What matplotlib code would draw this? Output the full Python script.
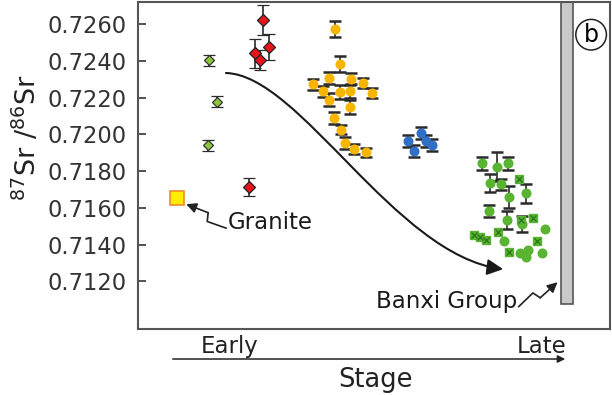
import numpy as np
import matplotlib
matplotlib.use("Agg")
import matplotlib.pyplot as plt
from matplotlib.patches import FancyArrowPatch, Rectangle
from matplotlib.path import Path

# 87Sr/86Sr of the different mineral generations, ordered by stage
granite_x = [8.18]
granite_y = [0.71652]

lime_x = [15.07, 16.77, 14.86]
lime_y = [0.72405, 0.72178, 0.71942]
lime_err = [0.0003, 0.0003, 0.0003]

red_x = [26.49, 27.74, 24.84, 25.90, 23.47]
red_y = [0.72623, 0.72478, 0.72442, 0.72404, 0.71715]
red_err = [0.0008, 0.0007, 0.0008, 0.00055, 0.0005]

yel_x = [41.69, 42.71, 40.32, 37.10, 45.14, 47.63, 39.05, 42.75, 44.78,
         49.58, 40.32, 44.78, 41.40, 42.96, 43.76, 45.60, 48.20]
yel_y = [0.72573, 0.72384, 0.72306, 0.72275, 0.72305, 0.72280, 0.72235,
         0.72231, 0.72235, 0.72226, 0.72190, 0.72149, 0.72088, 0.72027,
         0.71953, 0.71920, 0.71902]
yel_err = [0.00043, 0.00045, 0.00033, 0.0003, 0.00028, 0.00028, 0.0003,
           0.0004, 0.00035, 0.00025, 0.00036, 0.00038, 0.00032, 0.00027,
           0.00032, 0.00029, 0.00025]

blue_x = [59.83, 57.12, 60.95, 62.26, 58.46]
blue_y = [0.72010, 0.71966, 0.71964, 0.71942, 0.71912]
blue_err = [0.00033, 0.00033, 0.00033, 0.00033, 0.00033]

grn_x = [72.66, 75.86, 78.33, 74.42, 76.74, 78.44, 81.99, 74.27, 77.97, 81.25]
grn_y = [0.71842, 0.71824, 0.71842, 0.71737, 0.71728, 0.71660, 0.71679,
         0.71584, 0.71535, 0.71512]
grn_err = [0.00033, 0.0008, 0.00033, 0.0005, 0.00028, 0.0006, 0.0005,
           0.00033, 0.0005, 0.00044]

grn2_x = [86.15, 77.44, 80.76, 81.82, 82.52, 82.14, 85.37]
grn2_y = [0.71484, 0.71421, 0.71352, 0.71346, 0.71370, 0.71335, 0.71354]

grnx_x = [80.66, 81.08, 83.57, 71.04, 72.30, 73.68, 76.11, 84.46, 78.54]
grnx_y = [0.71755, 0.71536, 0.71543, 0.71451, 0.71439, 0.71427, 0.71468,
          0.71419, 0.71361]

banxi_x = 90.75
banxi_w = 2.65
banxi_low = 0.71076

yticks = [0.7120, 0.7140, 0.7160, 0.7180, 0.7200, 0.7220, 0.7240, 0.7260]

plt.rcParams['font.family'] = 'DejaVu Sans'

fig = plt.figure(figsize=(6.12, 3.95), dpi=100)
ax = fig.add_axes([138 / 612, 66 / 395, 472 / 612, 327 / 395])
ax.set_xlim(0, 99.8)
ax.set_ylim(0.70940, 0.72722)

ebar = dict(ls='none', ecolor='#2a2a2a', elinewidth=1.2, capsize=4.5,
            capthick=1.8, zorder=3)

ax.errorbar(lime_x, lime_y, yerr=lime_err, marker='D', ms=5.5,
            mfc='#8cc63f', mec='#333333', mew=0.9, **ebar)
ax.errorbar(red_x, red_y, yerr=red_err, marker='D', ms=6.2,
            mfc='#e8141b', mec='#222222', mew=0.9, **ebar)
ax.errorbar(yel_x, yel_y, yerr=yel_err, marker='o', ms=6.2,
            mfc='#f7b500', mec='#f7b500', **ebar)
ax.errorbar(blue_x, blue_y, yerr=blue_err, marker='o', ms=6.2,
            mfc='#2f6fc6', mec='#2f6fc6', **ebar)
ax.errorbar(grn_x, grn_y, yerr=grn_err, marker='o', ms=6.2,
            mfc='#58b431', mec='#58b431', **ebar)
ax.plot(grn2_x, grn2_y, 'o', ms=6.2, color='#58b431', zorder=4)
ax.plot(grnx_x, grnx_y, 's', ms=5.5, color='#58b431', zorder=4)
ax.plot(grnx_x, grnx_y, 'x', ms=5, mew=1.0, color='#2f7a1a', zorder=5)

ax.plot(granite_x, granite_y, 's', ms=10, mfc='#ffec00', mec='#f08a30',
        mew=1.2, zorder=4)

# Banxi Group bar
ax.add_patch(Rectangle((banxi_x - banxi_w / 2, banxi_low), banxi_w,
                       0.72722 - banxi_low, fc='#c9c9c9', ec='#555555',
                       lw=1.2, zorder=2))

# trend arrow
verts = [(18.6, 0.72335), (34.25, 0.72324), (54.3, 0.71343), (77.2, 0.71266)]
trend = Path(verts, [Path.MOVETO, Path.CURVE4, Path.CURVE4, Path.CURVE4])
ax.add_patch(FancyArrowPatch(path=trend, arrowstyle='-|>', mutation_scale=24,
                             color='#1a1a1a', lw=1.5, zorder=2))


def bolt(start, end):
    # lightning-style pointer, drawn in display pixels
    s = ax.transData.transform(start)
    e = ax.transData.transform(end)
    d = e - s
    n = np.array([-d[1], d[0]]) / np.hypot(*d)
    m1 = s + 0.42 * d + 4 * n
    m2 = s + 0.5 * d - 4 * n
    pts = np.array([s, m1, m2])
    inv = ax.transData.inverted()
    p = inv.transform(pts)
    ax.plot(p[:, 0], p[:, 1], color='#222222', lw=1.2, clip_on=False)
    ax.annotate('', xy=end, xytext=tuple(inv.transform(m2)),
                arrowprops=dict(arrowstyle='-|>', color='#222222', lw=1.2,
                                mutation_scale=15, shrinkA=0, shrinkB=0))


ax.text(19.0, 0.71523, 'Granite', fontsize=16.5, ha='left', va='center',
        color='#1a1a1a')
bolt((18.6, 0.71490), (10.2, 0.71620))
ax.text(80.1, 0.71092, 'Banxi Group', fontsize=16.5, ha='right',
        va='center', color='#1a1a1a')
bolt((80.5, 0.71062), (88.7, 0.71195))

ax.text(0.96, 0.90, 'b', transform=ax.transAxes, fontsize=17, ha='center',
        va='center', bbox=dict(boxstyle='circle,pad=0.14', fc='white',
                               ec='#222222', lw=1.1))

ax.set_yticks(yticks)
ax.set_yticklabels(['%.4f' % t for t in yticks])
ax.set_xticks([])
ax.tick_params(axis='y', direction='in', length=6, width=1.3,
               color='#444444', labelsize=16.3, pad=8, labelcolor='#333333')
for sp in ax.spines.values():
    sp.set_color('#555555')
    sp.set_linewidth(1.5)

ax.set_ylabel('$^{87}$Sr /$^{86}$Sr', fontsize=19.5, color='#222222')
ax.yaxis.set_label_coords(-0.203, 0.5856)

# stage axis below the frame
fig.add_artist(FancyArrowPatch((170 / 612, 36 / 395), (568 / 612, 36 / 395),
                               transform=fig.transFigure, arrowstyle='-|>',
                               mutation_scale=11, color='#222222', lw=1.1))
fig.text(230 / 612, 42 / 395, 'Early', fontsize=16.5, ha='center',
         va='baseline', color='#222222')
fig.text(542 / 612, 42 / 395, 'Late', fontsize=16.5, ha='center',
         va='baseline', color='#222222')
fig.text(376 / 612, 8 / 395, 'Stage', fontsize=18.5, ha='center',
         va='baseline', color='#222222')

fig.savefig('out.png', dpi=100)
